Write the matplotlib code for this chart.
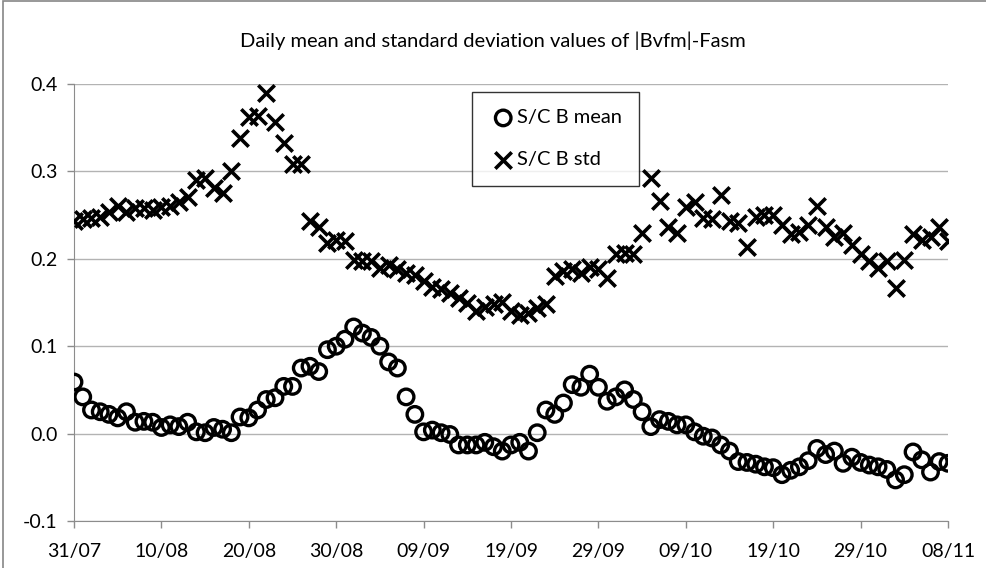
import matplotlib
matplotlib.use("Agg")
import matplotlib.pyplot as plt
from matplotlib.patches import Rectangle

# day offsets from 31/07
days = list(range(101))

mean_vals = [
    0.059, 0.042, 0.027, 0.025, 0.022, 0.018, 0.025, 0.013, 0.014, 0.013,
    0.007, 0.010, 0.008, 0.013, 0.002, 0.001, 0.007, 0.005, 0.001, 0.019,
    0.018, 0.027, 0.039, 0.041, 0.054, 0.054, 0.075, 0.077, 0.071, 0.096,
    0.100, 0.108, 0.122, 0.115, 0.110, 0.100, 0.082, 0.075, 0.042, 0.022,
    0.002, 0.004, 0.001, -0.001, -0.013, -0.013, -0.013, -0.010, -0.015, -0.020,
    -0.013, -0.010, -0.020, 0.001, 0.027, 0.022, 0.035, 0.056, 0.053, 0.068,
    0.053, 0.037, 0.042, 0.050, 0.039, 0.025, 0.008, 0.016, 0.014, 0.010,
    0.010, 0.002, -0.003, -0.005, -0.013, -0.020, -0.032, -0.033, -0.035, -0.038,
    -0.039, -0.047, -0.042, -0.038, -0.031, -0.017, -0.024, -0.020, -0.034, -0.027,
    -0.033, -0.036, -0.038, -0.041, -0.053, -0.047, -0.021, -0.030, -0.044, -0.032,
    -0.034,
]

std_vals = [
    0.243, 0.245, 0.247, 0.248, 0.254, 0.260, 0.254, 0.258, 0.258, 0.256,
    0.259, 0.260, 0.265, 0.271, 0.290, 0.293, 0.281, 0.275, 0.300, 0.338,
    0.362, 0.363, 0.390, 0.357, 0.333, 0.308, 0.308, 0.243, 0.236, 0.218,
    0.222, 0.220, 0.199, 0.197, 0.197, 0.190, 0.193, 0.188, 0.184, 0.182,
    0.175, 0.168, 0.165, 0.161, 0.155, 0.150, 0.140, 0.145, 0.148, 0.151,
    0.140, 0.136, 0.138, 0.144, 0.148, 0.180, 0.186, 0.188, 0.184, 0.191,
    0.188, 0.178, 0.205, 0.207, 0.205, 0.230, 0.292, 0.266, 0.236, 0.230,
    0.259, 0.265, 0.247, 0.245, 0.273, 0.243, 0.241, 0.214, 0.248, 0.250,
    0.250, 0.239, 0.228, 0.231, 0.239, 0.260, 0.236, 0.225, 0.230, 0.216,
    0.205, 0.197, 0.190, 0.197, 0.167, 0.199, 0.228, 0.222, 0.225, 0.236,
    0.220,
]

tick_days = [0, 10, 20, 30, 40, 50, 60, 70, 80, 90, 100]
tick_labels = ["31/07", "10/08", "20/08", "30/08", "09/09", "19/09",
               "29/09", "09/10", "19/10", "29/10", "08/11"]
y_ticks = [-0.1, 0.0, 0.1, 0.2, 0.3, 0.4]

plt.rcParams["font.family"] = ["Lato", "DejaVu Sans"]

fig = plt.figure(figsize=(9.86, 5.68), dpi=100)
ax = fig.add_axes([74 / 986, 47 / 568, 874 / 986, 437 / 568])

# chart-area border like the spreadsheet export
fig.patches.append(Rectangle((3 / 986, -0.05), 1.1, (568 - 1) / 568 + 0.05,
                             transform=fig.transFigure, fill=False,
                             edgecolor="#868686", linewidth=1.2))

ax.scatter(days, mean_vals, s=125, facecolors="none", edgecolors="black",
           linewidths=2.4, marker="o", label="S/C B mean", zorder=3)
ax.scatter(days, std_vals, s=140, color="black", linewidths=2.6,
           marker="x", label="S/C B std", zorder=3)

ax.set_xlim(0, 100)
ax.set_ylim(-0.1, 0.4)
ax.set_xticks(tick_days)
ax.set_xticklabels(tick_labels)
ax.set_yticks(y_ticks)
ax.set_yticklabels([f"{v:.1f}" for v in y_ticks])

ax.grid(axis="y", color="#b3b3b3", linewidth=1.0)
ax.set_axisbelow(True)
for side in ["top", "right"]:
    ax.spines[side].set_visible(False)
ax.spines["left"].set_color("#8c8c8c")
ax.spines["bottom"].set_color("#8c8c8c")
ax.tick_params(axis="both", colors="#8c8c8c", labelcolor="black",
               labelsize=14, length=5, width=1)
ax.tick_params(axis="x", pad=11)
ax.tick_params(axis="y", pad=7)

fig.text(0.5, 1 - 41 / 568, "Daily mean and standard deviation values of |Bvfm|-Fasm",
         ha="center", va="center", fontsize=14.5)

leg = ax.legend(loc="upper left", bbox_to_anchor=((472 - 74) / 874, (521 - 92) / 437),
                frameon=True, fancybox=False, edgecolor="black", fontsize=14.5,
                handletextpad=0.0, labelspacing=1.25, borderpad=0.85,
                handlelength=1.4, borderaxespad=0)
leg.get_frame().set_linewidth(1.0)

fig.savefig("out.png", dpi=100)
